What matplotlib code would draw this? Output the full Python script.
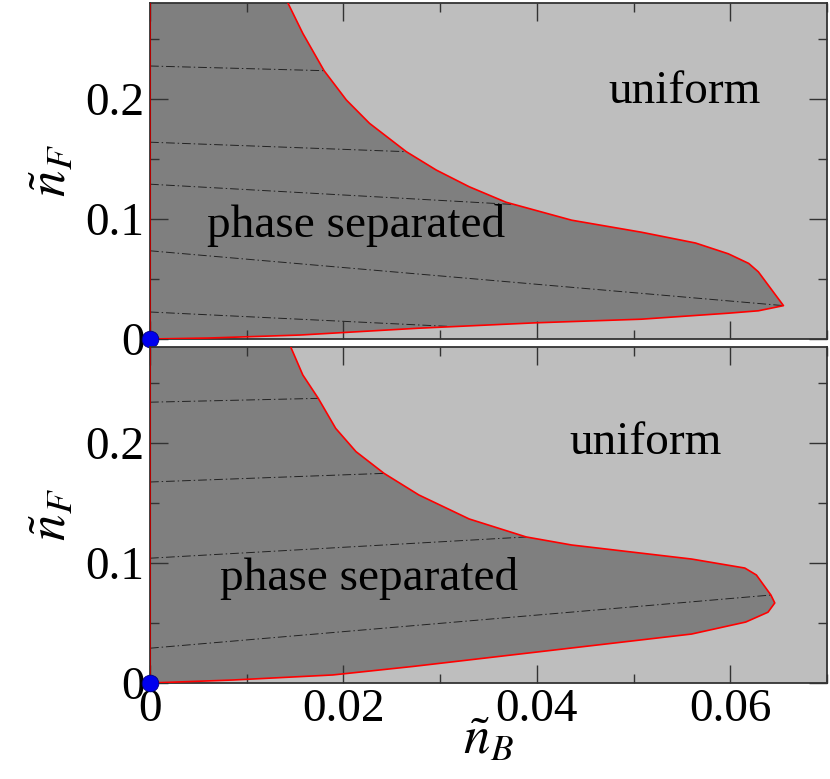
import matplotlib
matplotlib.use("Agg")
import matplotlib.pyplot as plt
from matplotlib.ticker import MultipleLocator

plt.rcParams['font.family'] = ['Liberation Serif', 'DejaVu Serif']
plt.rcParams['mathtext.fontset'] = 'stix'

# ---- data: top panel ----
top_upper_x = [0.0135, 0.01426, 0.0158, 0.0180, 0.0203, 0.0227, 0.0265, 0.0296, 0.0330, 0.0368, 0.0436,
               0.0508, 0.0564, 0.0598, 0.0619, 0.0629, 0.0655]
top_upper_y = [0.300, 0.280, 0.2547, 0.2236, 0.1992, 0.1797, 0.1561, 0.1408, 0.1269, 0.114, 0.099,
               0.089, 0.080, 0.071, 0.063, 0.056, 0.0278]
top_lower_x = [0.0655, 0.0629, 0.0598, 0.0508, 0.0399, 0.0278, 0.0155, 0.0060, 0.0]
top_lower_y = [0.0278, 0.0235, 0.0215, 0.0165, 0.0135, 0.0090, 0.0033, 0.0008, 0.0]
top_ties = [((0.0, 0.2275), (0.0180, 0.2236)),
            ((0.0, 0.164), (0.0265, 0.1561)),
            ((0.0, 0.129), (0.0378, 0.112)),
            ((0.0, 0.0735), (0.0655, 0.0278)),
            ((0.0, 0.0225), (0.0309, 0.0105))]

# ---- data: bottom panel ----
bot_upper_x = [0.0140, 0.01461, 0.0158, 0.0174, 0.0192, 0.0213, 0.0242, 0.0278, 0.0330, 0.0389, 0.0436,
               0.0560, 0.0615, 0.0627, 0.0642, 0.0646]
bot_upper_y = [0.300, 0.2789, 0.2567, 0.2372, 0.2122, 0.1928, 0.1747, 0.1567, 0.1367, 0.1217, 0.115,
               0.1033, 0.0958, 0.090, 0.0733, 0.0667]
bot_lower_x = [0.0646, 0.0639, 0.0616, 0.0560, 0.0272, 0.0189, 0.0086, 0.0]
bot_lower_y = [0.0667, 0.059, 0.0508, 0.0408, 0.0138, 0.0067, 0.0025, 0.0]
bot_ties = [((0.0, 0.234), (0.0174, 0.2372)),
            ((0.0, 0.1675), (0.0242, 0.1747)),
            ((0.0, 0.104), (0.0389, 0.1217)),
            ((0.0, 0.029), (0.0642, 0.0733))]

x_ticks = [0, 0.02, 0.04, 0.06]
x_ticklabels = ['0', '0.02', '0.04', '0.06']
y_ticks = [0, 0.1, 0.2]
y_ticklabels = ['0', '0.1', '0.2']

LIGHT = '#bebebe'
DARK = '#7f7f7f'
FS = 34

fig = plt.figure(figsize=(8.30, 7.79), dpi=100)
W, H = 830, 779
ax_top = fig.add_axes([150 / W, (H - 339) / H, 677 / W, 336 / H])
ax_bot = fig.add_axes([150 / W, (H - 683) / H, 677 / W, 336 / H])


def draw(ax, ux, uy, lx, ly, ties, ulab, plab, show_x):
    ax.set_facecolor(LIGHT)
    px = [0.0] + ux + lx[1:]
    py = [0.30] + uy + ly[1:]
    ax.fill(px, py, color=DARK, lw=0, zorder=1)
    ax.plot(ux + lx[1:], uy + ly[1:], color='red', lw=1.2, zorder=3)
    ax.plot([0, 0], [0, 0.30], color='#b00000', lw=1.5, zorder=3)
    for (a, b) in ties:
        ax.plot([a[0], b[0]], [a[1], b[1]], color='#222222', lw=0.7,
                dashes=(9, 3, 1.5, 3), zorder=2)
    ax.plot([0], [0], 'o', color='#0000ee', mec='#000080', mew=0.6, ms=12,
            clip_on=False, zorder=10)
    ax.set_xlim(0, 0.07)
    ax.set_ylim(0, 0.28)
    ax.set_xticks(x_ticks)
    ax.xaxis.set_minor_locator(MultipleLocator(0.01))
    ax.set_yticks(y_ticks)
    ax.yaxis.set_minor_locator(MultipleLocator(0.05))
    ax.set_yticklabels(y_ticklabels, fontsize=FS)
    if show_x:
        ax.set_xticklabels(x_ticklabels, fontsize=FS)
    else:
        ax.set_xticklabels([])
    ax.tick_params(which='both', direction='in', top=True, right=True,
                   color='#333333', width=1.0)
    ax.tick_params(which='major', length=13, pad=4)
    ax.tick_params(which='minor', length=6.5)
    for s in ax.spines.values():
        s.set_color('#333333')
        s.set_linewidth(1.3)
    ax.text(*ulab, 'uniform', fontsize=FS, ha='center', va='center', zorder=5)
    ax.text(*plab, 'phase separated', fontsize=FS, ha='center', va='center', zorder=5)
    ax.set_ylabel(r'$\tilde{n}_F$', fontsize=FS + 4, labelpad=6)


draw(ax_top, top_upper_x, top_upper_y, top_lower_x, top_lower_y, top_ties,
     (0.0553, 0.206), (0.0213, 0.095), False)
draw(ax_bot, bot_upper_x, bot_upper_y, bot_lower_x, bot_lower_y, bot_ties,
     (0.0512, 0.20), (0.0226, 0.087), True)
ax_bot.set_xlabel(r'$\tilde{n}_B$', fontsize=FS + 4, labelpad=-10)

fig.savefig('out.png', dpi=100)
